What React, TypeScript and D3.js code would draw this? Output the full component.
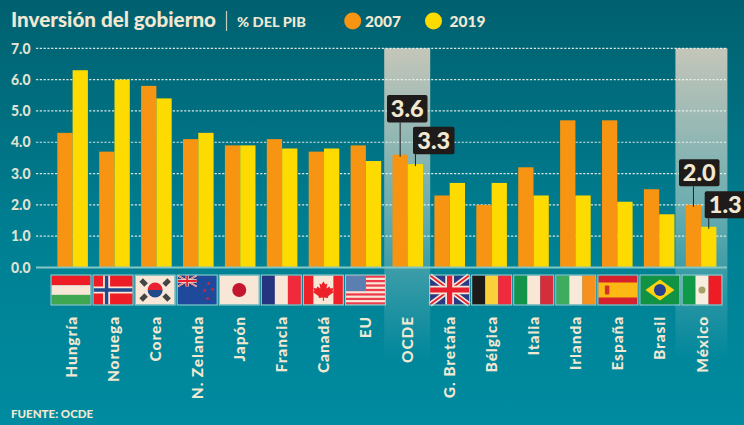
import React from "react";
import * as d3 from "d3";

const W = 744, H = 425;
const categories = ["Hungría","Noruega","Corea","N. Zelanda","Japón","Francia","Canadá","EU","OCDE","G. Bretaña","Bélgica","Italia","Irlanda","España","Brasil","México"];
const v2007 = [4.3,3.7,5.8,4.1,3.9,4.1,3.7,3.9,3.6,2.3,2.0,3.2,4.7,4.7,2.5,2.0];
const v2019 = [6.3,6.0,5.4,4.3,3.9,3.8,3.8,3.4,3.3,2.7,2.7,2.3,2.3,2.1,1.7,1.3];
const yTicks = [0,1,2,3,4,5,6,7];
const highlighted = ["OCDE","México"];
const ORANGE = "#f79411", YELLOW = "#fedb00", CREAM = "#f0e8d2";
const FONT = "Lato, 'Open Sans', sans-serif";

const y = d3.scaleLinear().domain([0,7]).range([267.5,48.3]);
const x = d3.scaleBand<string>().domain(categories).range([57.3,716.4]).paddingInner(0.27).paddingOuter(0);
const fx = d3.scalePoint<string>().domain(categories).range([71,702]);

const FW = 39, FH = 29;
function Stripes({c, vertical}: {c: string[]; vertical?: boolean}) {
  return <>{c.map((col,i)=> vertical
    ? <rect key={i} x={i*FW/c.length} y={0} width={FW/c.length+0.2} height={FH} fill={col}/>
    : <rect key={i} x={0} y={i*FH/c.length} width={FW} height={FH/c.length+0.2} fill={col}/>)}</>;
}
function Union({w,h}: {w:number;h:number}) {
  return <g>
    <rect width={w} height={h} fill="#2b3a82"/>
    <path d={`M0 0L${w} ${h}M${w} 0L0 ${h}`} stroke="#f3e6d8" strokeWidth={h*0.18}/>
    <path d={`M0 0L${w} ${h}M${w} 0L0 ${h}`} stroke="#e8202f" strokeWidth={h*0.06}/>
    <path d={`M${w/2} 0V${h}M0 ${h/2}H${w}`} stroke="#f3e6d8" strokeWidth={h*0.3}/>
    <path d={`M${w/2} 0V${h}M0 ${h/2}H${w}`} stroke="#e8202f" strokeWidth={h*0.18}/>
  </g>;
}
function FlagBody({name}: {name:string}) {
  switch(name){
    case "Hungría": return <Stripes c={["#ee1c25","#f8e6d6","#3fa651"]}/>;
    case "Noruega": return <g>
      <rect width={FW} height={FH} fill="#ee1c25"/>
      <path d={`M13 0V${FH}M0 ${FH/2}H${FW}`} stroke="#f8e6d6" strokeWidth={7}/>
      <path d={`M13 0V${FH}M0 ${FH/2}H${FW}`} stroke="#1f4a8c" strokeWidth={3.4}/>
    </g>;
    case "Corea": return <g>
      <rect width={FW} height={FH} fill="#f8e6d6"/>
      <path d="M12 14.5a7.5 7.5 0 0 1 15 0z" fill="#e8202f"/>
      <path d="M12 14.5a7.5 7.5 0 0 0 15 0z" fill="#1f4a8c"/>
      {[[8,7,45],[31,7,-45],[8,22,-45],[31,22,45]].map(([a,b,r],i)=>
        <rect key={i} x={a-3.5} y={b-2.5} width={7} height={5} fill="#444" transform={`rotate(${r} ${a} ${b})`}/>)}
    </g>;
    case "N. Zelanda": return <g>
      <rect width={FW} height={FH} fill="#1f4a9c"/>
      <Union w={19} h={11}/>
      {[[31,8],[27,15],[35,14],[30,23]].map(([a,b],i)=><circle key={i} cx={a} cy={b} r={1.3} fill="#e8202f"/>)}
    </g>;
    case "Japón": return <g>
      <rect width={FW} height={FH} fill="#f8e6d6"/>
      <circle cx={FW/2} cy={FH/2} r={7} fill="#c4172f"/>
    </g>;
    case "Francia": return <Stripes vertical c={["#26347f","#f8e6d6","#ee2a3c"]}/>;
    case "Canadá": return <g>
      <rect width={FW} height={FH} fill="#f8e6d6"/>
      <rect width={9.5} height={FH} fill="#ee2028"/>
      <rect x={FW-9.5} width={9.5} height={FH} fill="#ee2028"/>
      <path d="M19.5 6l2 3 2-1-1 5 3-2 1 2 3-.5-1 3 1.5 1-5.5 4-.6 2-3.9-.5v3.5h-1v-3.5l-3.9.5-.6-2-5.5-4 1.500-1-1-3 3 .5 1-2 3 2-1-5 2 1z" fill="#ee2028"/>
    </g>;
    case "EU": return <g>
      <rect width={FW} height={FH} fill="#f8e6d6"/>
      {d3.range(0,7).map(i=><rect key={i} y={i*FH/6.5} width={FW} height={FH/13} fill="#ee3a4a"/>)}
      <rect width={20} height={15.6} fill="#5c7fb2"/>
    </g>;
    case "G. Bretaña": return <Union w={FW} h={FH}/>;
    case "Bélgica": return <Stripes vertical c={["#1e1a18","#fcd03a","#ee2a3c"]}/>;
    case "Italia": return <Stripes vertical c={["#14934a","#f8e6d6","#d42e3a"]}/>;
    case "Irlanda": return <Stripes vertical c={["#3fab5c","#f8e9d8","#f8901e"]}/>;
    case "España": return <g>
      <rect width={FW} height={FH} fill="#d6202c"/>
      <rect y={7} width={FW} height={15} fill="#fdb913"/>
      <rect x={6.500} y={10} width={4.500} height={9} rx={1} fill="#d6302c"/>
    </g>;
    case "Brasil": return <g>
      <rect width={FW} height={FH} fill="#129243"/>
      <path d={`M${FW/2} 4L${FW-5} ${FH/2}L${FW/2} ${FH-4}L5 ${FH/2}z`} fill="#fdd20e"/>
      <circle cx={FW/2} cy={FH/2} r={6} fill="#27408b"/>
    </g>;
    case "México": return <g>
      <Stripes vertical c={["#0f9a4a","#f8eee0","#ee1c25"]}/>
      <circle cx={FW/2} cy={FH/2} r={3.500} fill="#a9a067"/>
    </g>;
    default: return null;
  }
}
const flagged = categories.filter(c=>c!=="OCDE");

const callouts = [
  {label:"3.6", cat:"OCDE", s:0, bx:387, by:95, bw:40.5, bh:27.5},
  {label:"3.3", cat:"OCDE", s:1, bx:413, by:126.7, bw:41.5, bh:27.5},
  {label:"2.0", cat:"México", s:0, bx:679, by:159.3, bw:40.5, bh:27},
  {label:"1.3", cat:"México", s:1, bx:704.7, by:191.3, bw:41, bh:27},
];

export default function App(){
  const bw = x.bandwidth()/2;
  return (
    <svg width={W} height={H} viewBox={`0 0 ${W} ${H}`} style={{position:"absolute",left:0,top:0,display:"block"}} fontFamily={FONT}>
      <defs>
        <linearGradient id="bg" x1="0" y1="0" x2="0" y2="1">
          <stop offset="0" stopColor="#00606f"/>
          <stop offset="0.55" stopColor="#007f92"/>
          <stop offset="1" stopColor="#008ba0"/>
        </linearGradient>
        <linearGradient id="hl" x1="0" y1="0" x2="0" y2="1">
          <stop offset="0" stopColor="#c5c6ba" stopOpacity="1"/>
          <stop offset="0.5" stopColor="#b8d0c8" stopOpacity="0.6"/>
          <stop offset="1" stopColor="#9fd0d0" stopOpacity="0"/>
        </linearGradient>
      </defs>
      <rect width={W} height={H} fill="url(#bg)"/>

      {highlighted.map(c=>{
        const x0 = c==="OCDE" ? x(c)!-8.3 : x(c)!-10.4;
        const wd = c==="OCDE" ? 46 : 52;
        return <rect key={c} x={x0} y={y(7)} width={wd} height={360-y(7)} fill="url(#hl)"/>;
      })}

      {yTicks.filter(t=>t>0).map(t=>(
        <line key={t} x1={36} x2={727} y1={y(t)} y2={y(t)} stroke="#eef4ee" strokeOpacity={0.9} strokeWidth={1.2} strokeDasharray="2.200 1.600"/>
      ))}
      {yTicks.map(t=>(
        <text key={t} x={11} y={y(t)} dy="0.36em" fontSize={14.500} fontWeight={900} fill="#dfe2d2" textLength={19.500} lengthAdjust="spacingAndGlyphs">{t.toFixed(1)}</text>
      ))}

      {categories.map((c,i)=>(
        <g key={c}>
          <rect x={x(c)!} y={y(v2007[i])} width={bw} height={y(0)-y(v2007[i])} fill={ORANGE}/>
          <rect x={x(c)!+bw} y={y(v2019[i])} width={bw} height={y(0)-y(v2019[i])} fill={YELLOW}/>
        </g>
      ))}
      <line x1={36} x2={727} y1={y(0)} y2={y(0)} stroke="#86c6c4" strokeWidth={1.8}/>

      {flagged.map(c=>(
        <g key={c} transform={`translate(${fx(c)!-FW/2},275.5)`}>
          <FlagBody name={c}/>
          <rect x={-0.5} y={-0.5} width={FW+1} height={FH+1} fill="none" stroke="#9fd0d0" strokeWidth={1}/>
        </g>
      ))}

      {categories.map(c=>(
        <text key={c} transform={`translate(${fx(c)!+5.5},316) rotate(-90)`} textAnchor="end" fontSize={15.500} fontWeight={900} letterSpacing={0.9} fill={CREAM}>{c}</text>
      ))}

      {callouts.map(k=>{
        const i = categories.indexOf(k.cat);
        const val = k.s===0 ? v2007[i] : v2019[i];
        const cx = x(k.cat)! + bw*k.s + bw/2;
        return <g key={k.label}>
          <line x1={cx} x2={cx} y1={k.by+k.bh} y2={y(val)+2} stroke="#222" strokeWidth={1}/>
          <rect x={k.bx} y={k.by} width={k.bw} height={k.bh} rx={2} fill="#1f1b1a"/>
          <text x={k.bx+k.bw/2} y={k.by+k.bh/2} dy="0.36em" textAnchor="middle" fontSize={23.500} fontWeight={900} fill={CREAM}>{k.label}</text>
        </g>;
      })}

      <text x={11} y={26.500} fontSize={20.500} fontWeight={900} fill={CREAM} textLength={205} lengthAdjust="spacingAndGlyphs">Inversión del gobierno</text>
      <line x1={226.500} x2={226.500} y1={11} y2={31} stroke={CREAM} strokeOpacity={0.8} strokeWidth={1.2}/>
      <text x={237} y={26.500} fontSize={13} fontWeight={900} fill={CREAM} textLength={69} lengthAdjust="spacingAndGlyphs">% DEL PIB</text>
      <circle cx={352.700} cy={21} r={8.500} fill={ORANGE}/>
      <text x={365} y={27} fontSize={15.500} fontWeight={900} fill={CREAM}>2007</text>
      <circle cx={433.500} cy={21} r={8.500} fill={YELLOW}/>
      <text x={449.500} y={27} fontSize={15.500} fontWeight={900} fill={CREAM}>2019</text>
      <text x={11} y={418} fontSize={11.500} fontWeight={900} fill={CREAM}>FUENTE: OCDE</text>
    </svg>
  );
}
